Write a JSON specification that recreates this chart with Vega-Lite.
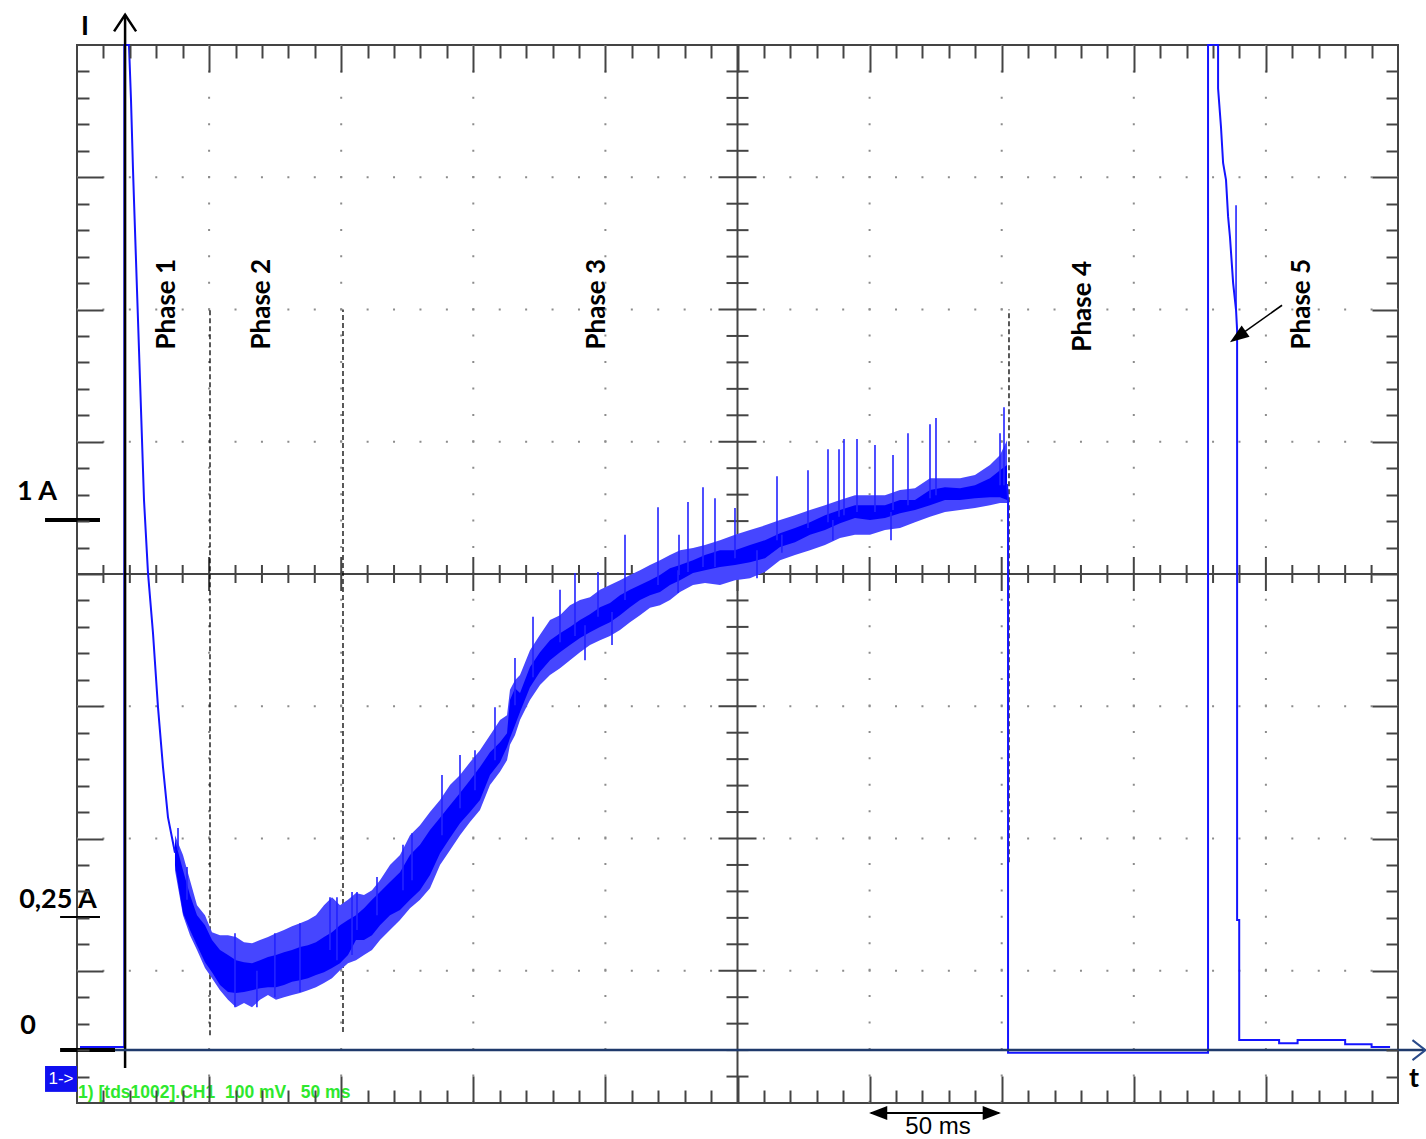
{
  "$schema": "https://vega.github.io/schema/vega-lite/v6.json",
  "width": 1321,
  "height": 1058,
  "autosize": {"type": "none"},
  "padding": {"left": 77, "top": 45, "right": 28, "bottom": 36},
  "background": "white",
  "config": {"view": {"stroke": "#444444", "strokeWidth": 2}},
  "resolve": {"axis": {"x": "independent", "y": "independent"}},
  "datasets": {
    "xt": [{"t":10},{"t":20},{"t":30},{"t":40},{"t":50},{"t":60},{"t":70},{"t":80},{"t":90},{"t":100},{"t":110},{"t":120},{"t":130},{"t":140},{"t":150},{"t":160},{"t":170},{"t":180},{"t":190},{"t":200},{"t":210},{"t":220},{"t":230},{"t":240},{"t":250},{"t":260},{"t":270},{"t":280},{"t":290},{"t":300},{"t":310},{"t":320},{"t":330},{"t":340},{"t":350},{"t":360},{"t":370},{"t":380},{"t":390},{"t":400},{"t":410},{"t":420},{"t":430},{"t":440},{"t":450},{"t":460},{"t":470},{"t":480},{"t":490}],
    "yt": [{"v":-0.05},{"v":0},{"v":0.05},{"v":0.1},{"v":0.15},{"v":0.2},{"v":0.25},{"v":0.3},{"v":0.35},{"v":0.4},{"v":0.45},{"v":0.5},{"v":0.55},{"v":0.6},{"v":0.65},{"v":0.7},{"v":0.75},{"v":0.8},{"v":0.85},{"v":0.9},{"v":0.95},{"v":1},{"v":1.05},{"v":1.1},{"v":1.15},{"v":1.2},{"v":1.25},{"v":1.3},{"v":1.35},{"v":1.4},{"v":1.45},{"v":1.5},{"v":1.55},{"v":1.6},{"v":1.65},{"v":1.7},{"v":1.75},{"v":1.8},{"v":1.85}],
    "band": [
      {"t":37.09,"lo":0.350,"hi":0.397,"olo":0.340,"ohi":0.406},
      {"t":40.12,"lo":0.259,"hi":0.340,"olo":0.255,"ohi":0.369},
      {"t":42.77,"lo":0.227,"hi":0.293,"olo":0.217,"ohi":0.321},
      {"t":45.42,"lo":0.198,"hi":0.255,"olo":0.189,"ohi":0.274},
      {"t":48.45,"lo":0.166,"hi":0.236,"olo":0.155,"ohi":0.255},
      {"t":51.10,"lo":0.147,"hi":0.208,"olo":0.136,"ohi":0.223},
      {"t":54.13,"lo":0.123,"hi":0.189,"olo":0.113,"ohi":0.217},
      {"t":57.15,"lo":0.110,"hi":0.180,"olo":0.095,"ohi":0.217},
      {"t":60.18,"lo":0.108,"hi":0.170,"olo":0.081,"ohi":0.214},
      {"t":63.21,"lo":0.110,"hi":0.166,"olo":0.089,"ohi":0.204},
      {"t":66.24,"lo":0.113,"hi":0.164,"olo":0.081,"ohi":0.202},
      {"t":69.27,"lo":0.117,"hi":0.170,"olo":0.095,"ohi":0.208},
      {"t":72.29,"lo":0.119,"hi":0.176,"olo":0.104,"ohi":0.214},
      {"t":75.32,"lo":0.119,"hi":0.180,"olo":0.095,"ohi":0.221},
      {"t":78.35,"lo":0.123,"hi":0.185,"olo":0.100,"ohi":0.227},
      {"t":81.38,"lo":0.129,"hi":0.189,"olo":0.104,"ohi":0.234},
      {"t":84.41,"lo":0.132,"hi":0.195,"olo":0.108,"ohi":0.240},
      {"t":87.43,"lo":0.136,"hi":0.198,"olo":0.113,"ohi":0.246},
      {"t":90.46,"lo":0.142,"hi":0.204,"olo":0.119,"ohi":0.255},
      {"t":93.49,"lo":0.147,"hi":0.214,"olo":0.127,"ohi":0.274},
      {"t":96.52,"lo":0.155,"hi":0.223,"olo":0.136,"ohi":0.289},
      {"t":99.55,"lo":0.164,"hi":0.236,"olo":0.151,"ohi":0.274},
      {"t":102.57,"lo":0.180,"hi":0.246,"olo":0.164,"ohi":0.284},
      {"t":105.60,"lo":0.208,"hi":0.255,"olo":0.170,"ohi":0.297},
      {"t":108.63,"lo":0.208,"hi":0.268,"olo":0.180,"ohi":0.293},
      {"t":111.66,"lo":0.217,"hi":0.284,"olo":0.189,"ohi":0.302},
      {"t":114.69,"lo":0.236,"hi":0.299,"olo":0.208,"ohi":0.321},
      {"t":118.47,"lo":0.255,"hi":0.318,"olo":0.227,"ohi":0.350},
      {"t":122.26,"lo":0.265,"hi":0.336,"olo":0.246,"ohi":0.369},
      {"t":126.04,"lo":0.284,"hi":0.369,"olo":0.268,"ohi":0.406},
      {"t":129.83,"lo":0.302,"hi":0.388,"olo":0.284,"ohi":0.425},
      {"t":133.61,"lo":0.331,"hi":0.416,"olo":0.306,"ohi":0.450},
      {"t":137.40,"lo":0.372,"hi":0.439,"olo":0.350,"ohi":0.473},
      {"t":141.18,"lo":0.401,"hi":0.463,"olo":0.378,"ohi":0.501},
      {"t":144.97,"lo":0.429,"hi":0.486,"olo":0.406,"ohi":0.520},
      {"t":148.75,"lo":0.450,"hi":0.510,"olo":0.431,"ohi":0.544},
      {"t":152.54,"lo":0.473,"hi":0.535,"olo":0.454,"ohi":0.567},
      {"t":156.32,"lo":0.520,"hi":0.563,"olo":0.501,"ohi":0.595},
      {"t":160.11,"lo":0.544,"hi":0.582,"olo":0.526,"ohi":0.624},
      {"t":162.76,"lo":0.573,"hi":0.599,"olo":0.548,"ohi":0.633},
      {"t":163.89,"lo":0.590,"hi":0.662,"olo":0.577,"ohi":0.681},
      {"t":165.78,"lo":0.614,"hi":0.684,"olo":0.595,"ohi":0.699},
      {"t":167.68,"lo":0.639,"hi":0.675,"olo":0.624,"ohi":0.709},
      {"t":171.46,"lo":0.686,"hi":0.724,"olo":0.662,"ohi":0.756},
      {"t":175.25,"lo":0.715,"hi":0.752,"olo":0.690,"ohi":0.785},
      {"t":179.03,"lo":0.737,"hi":0.775,"olo":0.709,"ohi":0.813},
      {"t":182.82,"lo":0.752,"hi":0.788,"olo":0.722,"ohi":0.822},
      {"t":186.60,"lo":0.766,"hi":0.800,"olo":0.737,"ohi":0.841},
      {"t":190.39,"lo":0.779,"hi":0.813,"olo":0.752,"ohi":0.851},
      {"t":194.17,"lo":0.790,"hi":0.824,"olo":0.766,"ohi":0.856},
      {"t":197.96,"lo":0.800,"hi":0.837,"olo":0.775,"ohi":0.870},
      {"t":201.74,"lo":0.809,"hi":0.845,"olo":0.783,"ohi":0.879},
      {"t":205.53,"lo":0.822,"hi":0.860,"olo":0.794,"ohi":0.888},
      {"t":209.31,"lo":0.837,"hi":0.870,"olo":0.809,"ohi":0.898},
      {"t":213.10,"lo":0.851,"hi":0.879,"olo":0.822,"ohi":0.907},
      {"t":216.88,"lo":0.860,"hi":0.888,"olo":0.836,"ohi":0.917},
      {"t":220.67,"lo":0.866,"hi":0.898,"olo":0.841,"ohi":0.926},
      {"t":224.45,"lo":0.879,"hi":0.911,"olo":0.851,"ohi":0.936},
      {"t":228.24,"lo":0.888,"hi":0.917,"olo":0.866,"ohi":0.945},
      {"t":233.16,"lo":0.902,"hi":0.926,"olo":0.879,"ohi":0.949},
      {"t":237.70,"lo":0.907,"hi":0.936,"olo":0.883,"ohi":0.955},
      {"t":243.38,"lo":0.913,"hi":0.945,"olo":0.879,"ohi":0.964},
      {"t":249.05,"lo":0.917,"hi":0.945,"olo":0.888,"ohi":0.974},
      {"t":254.73,"lo":0.922,"hi":0.955,"olo":0.892,"ohi":0.983},
      {"t":260.41,"lo":0.930,"hi":0.964,"olo":0.904,"ohi":0.992},
      {"t":266.09,"lo":0.951,"hi":0.977,"olo":0.926,"ohi":1.002},
      {"t":271.76,"lo":0.960,"hi":0.987,"olo":0.936,"ohi":1.011},
      {"t":277.44,"lo":0.974,"hi":0.998,"olo":0.945,"ohi":1.021},
      {"t":283.12,"lo":0.983,"hi":1.011,"olo":0.955,"ohi":1.030},
      {"t":288.80,"lo":0.996,"hi":1.021,"olo":0.968,"ohi":1.040},
      {"t":294.47,"lo":1.006,"hi":1.030,"olo":0.974,"ohi":1.049},
      {"t":300.15,"lo":1.002,"hi":1.030,"olo":0.974,"ohi":1.049},
      {"t":305.83,"lo":1.006,"hi":1.030,"olo":0.983,"ohi":1.049},
      {"t":311.51,"lo":1.015,"hi":1.040,"olo":0.987,"ohi":1.059},
      {"t":317.18,"lo":1.021,"hi":1.040,"olo":0.998,"ohi":1.062},
      {"t":322.86,"lo":1.030,"hi":1.059,"olo":1.008,"ohi":1.081},
      {"t":328.54,"lo":1.040,"hi":1.064,"olo":1.017,"ohi":1.081},
      {"t":334.22,"lo":1.040,"hi":1.062,"olo":1.021,"ohi":1.081},
      {"t":339.89,"lo":1.043,"hi":1.068,"olo":1.025,"ohi":1.087},
      {"t":345.57,"lo":1.045,"hi":1.081,"olo":1.030,"ohi":1.106},
      {"t":349.36,"lo":1.045,"hi":1.096,"olo":1.034,"ohi":1.125},
      {"t":352.01,"lo":1.040,"hi":1.106,"olo":1.034,"ohi":1.153}
    ],
    "spikes": [
      {"t":38.23,"lo":0.378,"hi":0.420},
      {"t":41.63,"lo":0.284,"hi":0.346},
      {"t":59.8,"lo":0.081,"hi":0.221},
      {"t":68.1,"lo":0.081,"hi":0.150},
      {"t":74.9,"lo":0.100,"hi":0.221},
      {"t":84.4,"lo":0.110,"hi":0.240},
      {"t":95.76,"lo":0.189,"hi":0.289},
      {"t":98.4,"lo":0.170,"hi":0.289},
      {"t":104.1,"lo":0.180,"hi":0.299},
      {"t":105.98,"lo":0.227,"hi":0.299},
      {"t":113.55,"lo":0.255,"hi":0.327},
      {"t":123.39,"lo":0.302,"hi":0.388},
      {"t":126.80,"lo":0.321,"hi":0.410},
      {"t":138.15,"lo":0.406,"hi":0.520},
      {"t":144.97,"lo":0.457,"hi":0.558},
      {"t":150.64,"lo":0.491,"hi":0.567},
      {"t":158.21,"lo":0.548,"hi":0.648},
      {"t":165.78,"lo":0.652,"hi":0.741},
      {"t":172.60,"lo":0.705,"hi":0.819},
      {"t":182.82,"lo":0.771,"hi":0.870},
      {"t":188.49,"lo":0.783,"hi":0.902},
      {"t":192.28,"lo":0.737,"hi":0.803},
      {"t":197.20,"lo":0.819,"hi":0.904},
      {"t":202.50,"lo":0.766,"hi":0.828},
      {"t":207.42,"lo":0.851,"hi":0.974},
      {"t":219.91,"lo":0.879,"hi":1.026},
      {"t":227.5,"lo":0.864,"hi":0.907},
      {"t":227.86,"lo":0.898,"hi":0.974},
      {"t":231.26,"lo":0.904,"hi":1.036},
      {"t":236.94,"lo":0.913,"hi":1.064},
      {"t":241.48,"lo":0.913,"hi":1.043},
      {"t":249.05,"lo":0.930,"hi":1.025},
      {"t":257.38,"lo":0.892,"hi":0.945},
      {"t":264.95,"lo":0.964,"hi":1.085},
      {"t":266.8,"lo":0.940,"hi":0.974},
      {"t":276.68,"lo":0.987,"hi":1.096},
      {"t":284.25,"lo":0.998,"hi":1.136},
      {"t":286.1,"lo":0.964,"hi":1.002},
      {"t":288.42,"lo":1.008,"hi":1.136},
      {"t":290.31,"lo":1.011,"hi":1.155},
      {"t":295.23,"lo":1.017,"hi":1.155},
      {"t":302.04,"lo":1.017,"hi":1.144},
      {"t":308.10,"lo":0.964,"hi":1.017},
      {"t":308.86,"lo":1.021,"hi":1.125},
      {"t":314.53,"lo":1.030,"hi":1.166},
      {"t":322.86,"lo":1.043,"hi":1.183},
      {"t":325.13,"lo":1.049,"hi":1.195},
      {"t":349.36,"lo":1.068,"hi":1.166},
      {"t":350.87,"lo":1.068,"hi":1.215},
      {"t":438.7,"lo":1.399,"hi":1.597}
    ],
    "trace": [
      {"seg":1,"i":1,"t":1.14,"I":0.006},
      {"seg":1,"i":2,"t":17.6,"I":0.006},
      {"seg":1,"i":3,"t":17.9,"I":0.006},
      {"seg":1,"i":4,"t":17.9,"I":1.9},
      {"seg":1,"i":5,"t":19.68,"I":1.9},
      {"seg":1,"i":6,"t":20.44,"I":1.796},
      {"seg":1,"i":7,"t":21.20,"I":1.664},
      {"seg":1,"i":8,"t":21.57,"I":1.607},
      {"seg":1,"i":9,"t":22.71,"I":1.437},
      {"seg":1,"i":10,"t":23.85,"I":1.267},
      {"seg":1,"i":11,"t":25.36,"I":1.040},
      {"seg":1,"i":12,"t":26.87,"I":0.902},
      {"seg":1,"i":13,"t":28.77,"I":0.788},
      {"seg":1,"i":14,"t":30.66,"I":0.648},
      {"seg":1,"i":15,"t":32.55,"I":0.535},
      {"seg":1,"i":16,"t":34.44,"I":0.440},
      {"seg":1,"i":17,"t":37.09,"I":0.373},
      {"seg":2,"i":1,"t":352.01,"I":1.07},
      {"seg":2,"i":2,"t":352.4,"I":1.04},
      {"seg":2,"i":3,"t":352.4,"I":-0.005},
      {"seg":2,"i":4,"t":428.1,"I":-0.005},
      {"seg":2,"i":5,"t":428.1,"I":1.9},
      {"seg":2,"i":6,"t":431.9,"I":1.9},
      {"seg":2,"i":7,"t":431.9,"I":1.818},
      {"seg":2,"i":8,"t":433.0,"I":1.745},
      {"seg":2,"i":9,"t":433.8,"I":1.677},
      {"seg":2,"i":10,"t":434.9,"I":1.645},
      {"seg":2,"i":11,"t":435.7,"I":1.575},
      {"seg":2,"i":12,"t":436.4,"I":1.537},
      {"seg":2,"i":13,"t":437.6,"I":1.450},
      {"seg":2,"i":14,"t":438.7,"I":1.399},
      {"seg":2,"i":15,"t":439.1,"I":1.361},
      {"seg":2,"i":16,"t":439.1,"I":0.246},
      {"seg":2,"i":17,"t":439.9,"I":0.246},
      {"seg":2,"i":18,"t":439.9,"I":0.019},
      {"seg":2,"i":19,"t":455,"I":0.019},
      {"seg":2,"i":20,"t":455,"I":0.013},
      {"seg":2,"i":21,"t":462,"I":0.013},
      {"seg":2,"i":22,"t":462,"I":0.019},
      {"seg":2,"i":23,"t":480,"I":0.019},
      {"seg":2,"i":24,"t":480,"I":0.011},
      {"seg":2,"i":25,"t":490,"I":0.011},
      {"seg":2,"i":26,"t":490,"I":0.006},
      {"seg":2,"i":27,"t":497,"I":0.006}
    ]
  },
  "layer": [
    {
      "data": {"values": [{"t":50},{"t":100},{"t":150},{"t":200},{"t":300},{"t":350},{"t":400},{"t":450}]},
      "mark": {"type": "rule", "color": "#8c8c8c", "strokeWidth": 2, "strokeDash": [2, 24.42], "strokeDashOffset": 1},
      "encoding": {
        "x": {"field": "t", "type": "quantitative", "scale": {"domain": [0, 500], "nice": false, "zero": false},
              "axis": {"orient": "top", "values": [10,20,30,40,50,60,70,80,90,100,110,120,130,140,150,160,170,180,190,200,210,220,230,240,250,260,270,280,290,300,310,320,330,340,350,360,370,380,390,400,410,420,430,440,450,460,470,480,490],
                       "tickSize": {"condition": {"test": "datum.value % 50 === 0", "value": -27}, "value": -13},
                       "tickColor": "#444444", "tickWidth": 2, "labels": false, "domain": false, "grid": false, "title": null, "zindex": 1}},
        "y": {"datum": 1.9, "type": "quantitative", "scale": {"domain": [-0.1, 1.9], "nice": false, "zero": false},
              "axis": {"orient": "left", "values": [-0.05,0,0.05,0.1,0.15,0.2,0.25,0.3,0.35,0.4,0.45,0.5,0.55,0.6,0.65,0.7,0.75,0.8,0.85,0.9,0.95,1,1.05,1.1,1.15,1.2,1.25,1.3,1.35,1.4,1.45,1.5,1.55,1.6,1.65,1.7,1.75,1.8,1.85],
                       "tickSize": {"condition": {"test": "abs((datum.value+0.1)/0.25-round((datum.value+0.1)/0.25))<0.01", "value": -26}, "value": -12},
                       "tickColor": "#444444", "tickWidth": 2, "labels": false, "domain": false, "grid": false, "title": null, "zindex": 1}},
        "y2": {"datum": -0.1}
      }
    },
    {
      "data": {"values": [{"v":0.15},{"v":0.4},{"v":0.65},{"v":1.15},{"v":1.4},{"v":1.65}]},
      "mark": {"type": "rule", "color": "#8c8c8c", "strokeWidth": 2, "strokeDash": [2, 24.42], "strokeDashOffset": 1},
      "encoding": {
        "y": {"field": "v", "type": "quantitative", "scale": {"domain": [-0.1, 1.9], "nice": false, "zero": false},
              "axis": {"orient": "right", "values": [-0.05,0,0.05,0.1,0.15,0.2,0.25,0.3,0.35,0.4,0.45,0.5,0.55,0.6,0.65,0.7,0.75,0.8,0.85,0.9,0.95,1,1.05,1.1,1.15,1.2,1.25,1.3,1.35,1.4,1.45,1.5,1.55,1.6,1.65,1.7,1.75,1.8,1.85],
                       "tickSize": {"condition": {"test": "abs((datum.value+0.1)/0.25-round((datum.value+0.1)/0.25))<0.01", "value": -26}, "value": -12},
                       "tickColor": "#444444", "tickWidth": 2, "labels": false, "domain": false, "grid": false, "title": null, "zindex": 1}},
        "x": {"datum": 0, "type": "quantitative", "scale": {"domain": [0, 500], "nice": false, "zero": false},
              "axis": {"orient": "bottom", "values": [10,20,30,40,50,60,70,80,90,100,110,120,130,140,150,160,170,180,190,200,210,220,230,240,250,260,270,280,290,300,310,320,330,340,350,360,370,380,390,400,410,420,430,440,450,460,470,480,490],
                       "tickSize": {"condition": {"test": "datum.value % 50 === 0", "value": -27}, "value": -13},
                       "tickColor": "#444444", "tickWidth": 2, "labels": false, "domain": false, "grid": false, "title": null, "zindex": 1}},
        "x2": {"datum": 500}
      }
    },
    {
      "data": {"values": [{}]},
      "mark": {"type": "rule", "color": "#444444", "strokeWidth": 2},
      "encoding": {
        "x": {"datum": 250, "type": "quantitative", "scale": {"domain": [0, 500], "nice": false, "zero": false}, "axis": null},
        "y": {"datum": -0.1, "type": "quantitative", "scale": {"domain": [-0.1, 1.9], "nice": false, "zero": false}, "axis": null},
        "y2": {"datum": 1.9}
      }
    },
    {
      "data": {"values": [{}]},
      "mark": {"type": "rule", "color": "#444444", "strokeWidth": 2},
      "encoding": {
        "y": {"datum": 0.9, "type": "quantitative", "scale": {"domain": [-0.1, 1.9], "nice": false, "zero": false}, "axis": null},
        "x": {"datum": 0, "type": "quantitative", "scale": {"domain": [0, 500], "nice": false, "zero": false}, "axis": null},
        "x2": {"datum": 500}
      }
    },
    {
      "data": {"name": "xt"},
      "mark": {"type": "tick", "orient": "vertical", "thickness": 2, "color": "#444444", "opacity": 1},
      "encoding": {
        "x": {"field": "t", "type": "quantitative", "scale": {"domain": [0, 500], "nice": false, "zero": false}, "axis": null},
        "y": {"datum": 0.9, "type": "quantitative", "scale": {"domain": [-0.1, 1.9], "nice": false, "zero": false}, "axis": null},
        "size": {"condition": {"test": "datum.t % 50 === 0", "value": 34}, "value": 18}
      }
    },
    {
      "data": {"name": "yt"},
      "mark": {"type": "tick", "orient": "horizontal", "thickness": 2, "color": "#444444", "opacity": 1},
      "encoding": {
        "y": {"field": "v", "type": "quantitative", "scale": {"domain": [-0.1, 1.9], "nice": false, "zero": false}, "axis": null},
        "x": {"datum": 250, "type": "quantitative", "scale": {"domain": [0, 500], "nice": false, "zero": false}, "axis": null},
        "size": {"condition": {"test": "abs((datum.v+0.1)/0.25-round((datum.v+0.1)/0.25))<0.01", "value": 38}, "value": 22}
      }
    },
    {
      "data": {"values": [{"t":50.34,"a":0.028,"b":1.4},{"t":100.68,"a":0.034,"b":1.4},{"t":352.76,"a":0.355,"b":1.4}]},
      "mark": {"type": "rule", "color": "black", "strokeWidth": 1.3, "strokeDash": [5, 3]},
      "encoding": {
        "x": {"field": "t", "type": "quantitative", "scale": {"domain": [0, 500], "nice": false, "zero": false}, "axis": null},
        "y": {"field": "a", "type": "quantitative", "scale": {"domain": [-0.1, 1.9], "nice": false, "zero": false}, "axis": null},
        "y2": {"field": "b"}
      }
    },
    {
      "data": {"name": "band"},
      "mark": {"type": "area", "color": "#4646ff", "opacity": 1},
      "encoding": {
        "x": {"field": "t", "type": "quantitative", "scale": {"domain": [0, 500], "nice": false, "zero": false}, "axis": null},
        "y": {"field": "olo", "type": "quantitative", "scale": {"domain": [-0.1, 1.9], "nice": false, "zero": false}, "axis": null},
        "y2": {"field": "ohi"}
      }
    },
    {
      "data": {"name": "band"},
      "mark": {"type": "area", "color": "#0000ff", "opacity": 1},
      "encoding": {
        "x": {"field": "t", "type": "quantitative", "scale": {"domain": [0, 500], "nice": false, "zero": false}, "axis": null},
        "y": {"field": "lo", "type": "quantitative", "scale": {"domain": [-0.1, 1.9], "nice": false, "zero": false}, "axis": null},
        "y2": {"field": "hi"}
      }
    },
    {
      "data": {"name": "spikes"},
      "mark": {"type": "rule", "color": "#2323ff", "strokeWidth": 1.6},
      "encoding": {
        "x": {"field": "t", "type": "quantitative", "scale": {"domain": [0, 500], "nice": false, "zero": false}, "axis": null},
        "y": {"field": "lo", "type": "quantitative", "scale": {"domain": [-0.1, 1.9], "nice": false, "zero": false}, "axis": null},
        "y2": {"field": "hi"}
      }
    },
    {
      "data": {"name": "trace"},
      "mark": {"type": "line", "color": "#1414ff", "strokeWidth": 2},
      "encoding": {
        "x": {"field": "t", "type": "quantitative", "scale": {"domain": [0, 500], "nice": false, "zero": false}, "axis": null},
        "y": {"field": "I", "type": "quantitative", "scale": {"domain": [-0.1, 1.9], "nice": false, "zero": false}, "axis": null},
        "detail": {"field": "seg", "type": "nominal"},
        "order": {"field": "i", "type": "quantitative"}
      }
    },
    {
      "data": {"values": [{}]},
      "mark": {"type": "rule", "color": "black", "strokeWidth": 2.5},
      "encoding": {
        "x": {"datum": 18.2, "type": "quantitative", "scale": {"domain": [0, 500], "nice": false, "zero": false}, "axis": null},
        "y": {"datum": -0.034, "type": "quantitative", "scale": {"domain": [-0.1, 1.9], "nice": false, "zero": false}, "axis": null},
        "y2": {"datum": 1.957}
      }
    },
    {
      "data": {"values": [{}]},
      "mark": {"type": "point", "shape": "M-1,1.5L0,0L1,1.5", "size": 484, "filled": false, "stroke": "black", "strokeWidth": 2.5, "opacity": 1},
      "encoding": {
        "x": {"datum": 18.2, "type": "quantitative", "scale": {"domain": [0, 500], "nice": false, "zero": false}, "axis": null},
        "y": {"datum": 1.957, "type": "quantitative", "scale": {"domain": [-0.1, 1.9], "nice": false, "zero": false}, "axis": null}
      }
    },
    {
      "data": {"values": [{}]},
      "mark": {"type": "rule", "color": "#1f3a6b", "strokeWidth": 2.5},
      "encoding": {
        "y": {"datum": 0, "type": "quantitative", "scale": {"domain": [-0.1, 1.9], "nice": false, "zero": false}, "axis": null},
        "x": {"datum": 14.4, "type": "quantitative", "scale": {"domain": [0, 500], "nice": false, "zero": false}, "axis": null},
        "x2": {"datum": 510}
      }
    },
    {
      "data": {"values": [{}]},
      "mark": {"type": "point", "shape": "M-1.3,-1L0,0L-1.3,1", "size": 400, "filled": false, "stroke": "#2a4a8a", "strokeWidth": 2, "opacity": 1},
      "encoding": {
        "x": {"datum": 510.4, "type": "quantitative", "scale": {"domain": [0, 500], "nice": false, "zero": false}, "axis": null},
        "y": {"datum": 0, "type": "quantitative", "scale": {"domain": [-0.1, 1.9], "nice": false, "zero": false}, "axis": null}
      }
    },
    {
      "data": {"values": [{"a":-12.1,"b":8.7,"v":1.002},{"a":-6.4,"b":14.4,"v":0}]},
      "mark": {"type": "rule", "color": "black", "strokeWidth": 4},
      "encoding": {
        "x": {"field": "a", "type": "quantitative", "scale": {"domain": [0, 500], "nice": false, "zero": false}, "axis": null},
        "x2": {"field": "b"},
        "y": {"field": "v", "type": "quantitative", "scale": {"domain": [-0.1, 1.9], "nice": false, "zero": false}, "axis": null}
      }
    },
    {
      "data": {"values": [{"a":-6.4,"b":8.7,"v":0.2514}]},
      "mark": {"type": "rule", "color": "black", "strokeWidth": 2},
      "encoding": {
        "x": {"field": "a", "type": "quantitative", "scale": {"domain": [0, 500], "nice": false, "zero": false}, "axis": null},
        "x2": {"field": "b"},
        "y": {"field": "v", "type": "quantitative", "scale": {"domain": [-0.1, 1.9], "nice": false, "zero": false}, "axis": null}
      }
    },
    {
      "data": {"values": [{"t":34.07,"v":1.41,"label":"Phase 1"},{"t":70.0,"v":1.41,"label":"Phase 2"},{"t":196.8,"v":1.41,"label":"Phase 3"},{"t":380.8,"v":1.406,"label":"Phase 4"},{"t":463.7,"v":1.41,"label":"Phase 5"}]},
      "mark": {"type": "text", "font": "Lato", "fontWeight": "bold", "fontSize": 26, "angle": 270, "align": "center", "baseline": "middle", "color": "black"},
      "encoding": {
        "x": {"field": "t", "type": "quantitative", "scale": {"domain": [0, 500], "nice": false, "zero": false}, "axis": null},
        "y": {"field": "v", "type": "quantitative", "scale": {"domain": [-0.1, 1.9], "nice": false, "zero": false}, "axis": null},
        "text": {"field": "label"}
      }
    },
    {
      "data": {"values": [{"t":3.03,"v":1.934,"label":"I"},{"t":-15.14,"v":1.055,"label":"1 A"},{"t":-7.19,"v":0.284,"label":"0,25 A"},{"t":-18.55,"v":0.045,"label":"0"},{"t":506.06,"v":-0.055,"label":"t"}]},
      "mark": {"type": "text", "font": "Lato", "fontWeight": "bold", "fontSize": 27, "align": "center", "baseline": "middle", "color": "black"},
      "encoding": {
        "x": {"field": "t", "type": "quantitative", "scale": {"domain": [0, 500], "nice": false, "zero": false}, "axis": null},
        "y": {"field": "v", "type": "quantitative", "scale": {"domain": [-0.1, 1.9], "nice": false, "zero": false}, "axis": null},
        "text": {"field": "label"}
      }
    },
    {
      "data": {"values": [{}]},
      "mark": {"type": "rule", "color": "black", "strokeWidth": 2},
      "encoding": {
        "x": {"datum": 300.5, "type": "quantitative", "scale": {"domain": [0, 500], "nice": false, "zero": false}, "axis": null},
        "x2": {"datum": 349},
        "y": {"datum": -0.119, "type": "quantitative", "scale": {"domain": [-0.1, 1.9], "nice": false, "zero": false}, "axis": null}
      }
    },
    {
      "data": {"values": [{}]},
      "mark": {"type": "point", "shape": "M0,0L-2.6,-1L-2.6,1Z", "size": 196, "filled": true, "color": "black", "opacity": 1},
      "encoding": {
        "x": {"datum": 349.7, "type": "quantitative", "scale": {"domain": [0, 500], "nice": false, "zero": false}, "axis": null},
        "y": {"datum": -0.119, "type": "quantitative", "scale": {"domain": [-0.1, 1.9], "nice": false, "zero": false}, "axis": null}
      }
    },
    {
      "data": {"values": [{}]},
      "mark": {"type": "point", "shape": "M0,0L2.6,-1L2.6,1Z", "size": 196, "filled": true, "color": "black", "opacity": 1},
      "encoding": {
        "x": {"datum": 299.8, "type": "quantitative", "scale": {"domain": [0, 500], "nice": false, "zero": false}, "axis": null},
        "y": {"datum": -0.119, "type": "quantitative", "scale": {"domain": [-0.1, 1.9], "nice": false, "zero": false}, "axis": null}
      }
    },
    {
      "data": {"values": [{"t":325.89,"v":-0.1445,"label":"50 ms"}]},
      "mark": {"type": "text", "font": "Liberation Sans", "fontSize": 24, "align": "center", "baseline": "middle", "color": "black"},
      "encoding": {
        "x": {"field": "t", "type": "quantitative", "scale": {"domain": [0, 500], "nice": false, "zero": false}, "axis": null},
        "y": {"field": "v", "type": "quantitative", "scale": {"domain": [-0.1, 1.9], "nice": false, "zero": false}, "axis": null},
        "text": {"field": "label"}
      }
    },
    {
      "data": {"values": [{}]},
      "mark": {"type": "rule", "color": "black", "strokeWidth": 1.6},
      "encoding": {
        "x": {"datum": 456.1, "type": "quantitative", "scale": {"domain": [0, 500], "nice": false, "zero": false}, "axis": null},
        "y": {"datum": 1.408, "type": "quantitative", "scale": {"domain": [-0.1, 1.9], "nice": false, "zero": false}, "axis": null},
        "x2": {"datum": 437.5},
        "y2": {"datum": 1.342}
      }
    },
    {
      "data": {"values": [{}]},
      "mark": {"type": "point", "shape": "M0,0L2.45,-0.7L1.46,-2.09Z", "size": 256, "filled": true, "color": "black", "opacity": 1},
      "encoding": {
        "x": {"datum": 436.4, "type": "quantitative", "scale": {"domain": [0, 500], "nice": false, "zero": false}, "axis": null},
        "y": {"datum": 1.338, "type": "quantitative", "scale": {"domain": [-0.1, 1.9], "nice": false, "zero": false}, "axis": null}
      }
    },
    {
      "data": {"values": [{}]},
      "mark": {"type": "rect", "color": "#1010f0", "opacity": 1},
      "encoding": {
        "x": {"datum": -12.1, "type": "quantitative", "scale": {"domain": [0, 500], "nice": false, "zero": false}, "axis": null},
        "x2": {"datum": 0},
        "y": {"datum": -0.03, "type": "quantitative", "scale": {"domain": [-0.1, 1.9], "nice": false, "zero": false}, "axis": null},
        "y2": {"datum": -0.079}
      }
    },
    {
      "data": {"values": [{"t":-6.06,"v":-0.055,"label":"1->"}]},
      "mark": {"type": "text", "font": "Liberation Sans", "fontSize": 17, "align": "center", "baseline": "middle", "color": "white"},
      "encoding": {
        "x": {"field": "t", "type": "quantitative", "scale": {"domain": [0, 500], "nice": false, "zero": false}, "axis": null},
        "y": {"field": "v", "type": "quantitative", "scale": {"domain": [-0.1, 1.9], "nice": false, "zero": false}, "axis": null},
        "text": {"field": "label"}
      }
    },
    {
      "data": {"values": [{"t":0.4,"v":-0.081,"label":"1) [tds1002].CH1\u00a0 100 mV\u00a0\u00a0 50 ms"}]},
      "mark": {"type": "text", "font": "Liberation Sans", "fontWeight": "bold", "fontSize": 17.5, "align": "left", "baseline": "middle", "color": "#2ee82e"},
      "encoding": {
        "x": {"field": "t", "type": "quantitative", "scale": {"domain": [0, 500], "nice": false, "zero": false}, "axis": null},
        "y": {"field": "v", "type": "quantitative", "scale": {"domain": [-0.1, 1.9], "nice": false, "zero": false}, "axis": null},
        "text": {"field": "label"}
      }
    }
  ]
}
